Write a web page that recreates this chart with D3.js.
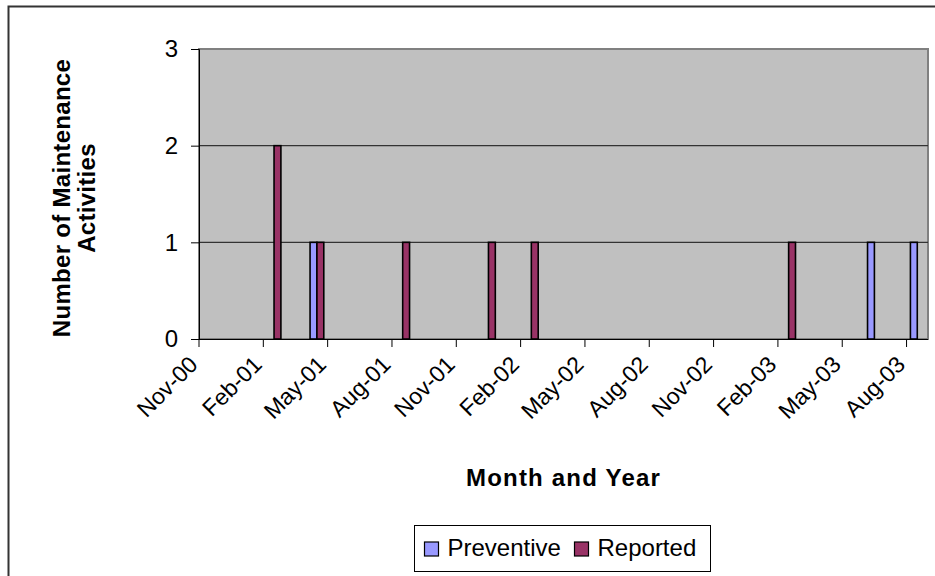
<!DOCTYPE html>
<html>
<head>
<meta charset="utf-8">
<script src="https://cdn.jsdelivr.net/npm/d3@7"></script>
<style>
  html, body { margin: 0; padding: 0; background: #fff; }
  svg { display: block; }
  text { font-family: "Liberation Sans", Arial, sans-serif; fill: #000; }
</style>
</head>
<body>
<svg id="chart" width="935" height="576"></svg>
<script>
// ---- Data ----
const months = [
  "2000-11","2000-12","2001-01","2001-02","2001-03","2001-04","2001-05","2001-06",
  "2001-07","2001-08","2001-09","2001-10","2001-11","2001-12","2002-01","2002-02",
  "2002-03","2002-04","2002-05","2002-06","2002-07","2002-08","2002-09","2002-10",
  "2002-11","2002-12","2003-01","2003-02","2003-03","2003-04","2003-05","2003-06",
  "2003-07","2003-08"
];
const preventive = [
  0,0,0,0,0,1,0,0, 0,0,0,0,0,0,0,0, 0,0,0,0,0,0,0,0, 0,0,0,0,0,0,0,1, 0,1
];
const reported = [
  0,0,0,2,0,1,0,0, 0,1,0,0,0,1,0,1, 0,0,0,0,0,0,0,0, 0,0,0,1,0,0,0,0, 0,0
];
const tickMonths = ["2000-11","2001-02","2001-05","2001-08","2001-11","2002-02",
                    "2002-05","2002-08","2002-11","2003-02","2003-05","2003-08"];
const tickLabels = ["Nov-00","Feb-01","May-01","Aug-01","Nov-01","Feb-02",
                    "May-02","Aug-02","Nov-02","Feb-03","May-03","Aug-03"];
const yTicks = [0, 1, 2, 3];
const seriesNames = ["Preventive", "Reported"];
const seriesColors = ["#9999FF", "#993366"];

// ---- Layout ----
const svg = d3.select("#chart");
const plot = { left: 199, right: 928, top: 49, bottom: 339 };

// outer chart border
svg.append("rect")
  .attr("x", 8.5).attr("y", 6.5).attr("width", 940).attr("height", 580)
  .attr("fill", "#fff").attr("stroke", "#333").attr("stroke-width", 2);

const x = d3.scaleBand().domain(months).range([plot.left, plot.right]).paddingInner(0).paddingOuter(0);
const y = d3.scaleLinear().domain([0, 3]).range([plot.bottom, plot.top]);

// plot area
svg.append("rect")
  .attr("x", plot.left).attr("y", plot.top)
  .attr("width", plot.right - plot.left).attr("height", plot.bottom - plot.top)
  .attr("fill", "#C0C0C0").attr("stroke", "#808080").attr("stroke-width", 2);

// gridlines
svg.append("g").selectAll("line")
  .data(yTicks.filter(d => d > 0 && d < 3))
  .join("line")
  .attr("x1", plot.left).attr("x2", plot.right)
  .attr("y1", d => y(d)).attr("y2", d => y(d))
  .attr("stroke", "#333").attr("stroke-width", 1.2);

// bars
const cluster = x.bandwidth() * 0.64;
const xs = d3.scaleBand().domain(seriesNames).range([0, cluster]);
const barData = [];
months.forEach((m, i) => {
  [preventive[i], reported[i]].forEach((v, k) => {
    if (v > 0) barData.push({ m, v, s: seriesNames[k], c: seriesColors[k] });
  });
});
svg.append("g").selectAll("rect")
  .data(barData)
  .join("rect")
  .attr("x", d => x(d.m) + (x.bandwidth() - cluster) / 2 + xs(d.s))
  .attr("y", d => y(d.v))
  .attr("width", xs.bandwidth())
  .attr("height", d => y(0) - y(d.v))
  .attr("fill", d => d.c)
  .attr("stroke", "#000").attr("stroke-width", 1.6);

// y axis
const yAxis = d3.axisLeft(y).tickValues(yTicks).tickFormat(d3.format("d")).tickSize(8).tickPadding(13);
const gy = svg.append("g").attr("transform", `translate(${plot.left},0)`).call(yAxis);
gy.select(".domain").attr("stroke", "#000");
gy.selectAll(".tick line").attr("stroke", "#000");
gy.selectAll("text").attr("font-size", 24).attr("font-family", "Liberation Sans, Arial, sans-serif");

// x axis
const xAxis = d3.axisBottom(x).tickValues(tickMonths).tickSize(8).tickSizeOuter(0)
  .tickFormat((d) => tickLabels[tickMonths.indexOf(d)]);
const gx = svg.append("g").attr("transform", `translate(0,${plot.bottom})`).call(xAxis);
gx.selectAll(".tick").attr("transform", d => `translate(${x(d)},0)`);
gx.select(".domain").attr("stroke", "#000").attr("d", `M${plot.left},0.5H${plot.right}`);
gx.selectAll(".tick line").attr("stroke", "#000");
gx.selectAll("text")
  .attr("font-size", 23).attr("font-family", "Liberation Sans, Arial, sans-serif")
  .attr("text-anchor", "end")
  .attr("dy", null).attr("y", null)
  .attr("transform", "translate(0,27) rotate(-45)");

// axis titles
svg.append("text")
  .attr("x", (plot.left + plot.right) / 2).attr("y", 486)
  .attr("text-anchor", "middle").attr("font-weight", "bold").attr("font-size", 24)
  .attr("letter-spacing", 1.2)
  .text("Month and Year");

const yt = svg.append("text")
  .attr("transform", `translate(70,198) rotate(-90)`)
  .attr("text-anchor", "middle").attr("font-weight", "bold").attr("font-size", 24)
  .attr("letter-spacing", 0.3);
yt.append("tspan").attr("x", 0).attr("y", 0).text("Number of Maintenance");
yt.append("tspan").attr("x", 0).attr("y", 25).text("Activities");

// legend
const lg = svg.append("g");
lg.append("rect").attr("x", 414.5).attr("y", 525.5).attr("width", 296).attr("height", 46)
  .attr("fill", "#fff").attr("stroke", "#000").attr("stroke-width", 1);
const legendX = [424.5, 574.5];
seriesNames.forEach((s, i) => {
  lg.append("rect").attr("x", legendX[i]).attr("y", 542).attr("width", 14).attr("height", 14)
    .attr("fill", seriesColors[i]).attr("stroke", "#000").attr("stroke-width", 1.2);
  lg.append("text").attr("x", legendX[i] + 23).attr("y", 556)
    .attr("font-size", 24).text(s);
});
</script>
</body>
</html>
